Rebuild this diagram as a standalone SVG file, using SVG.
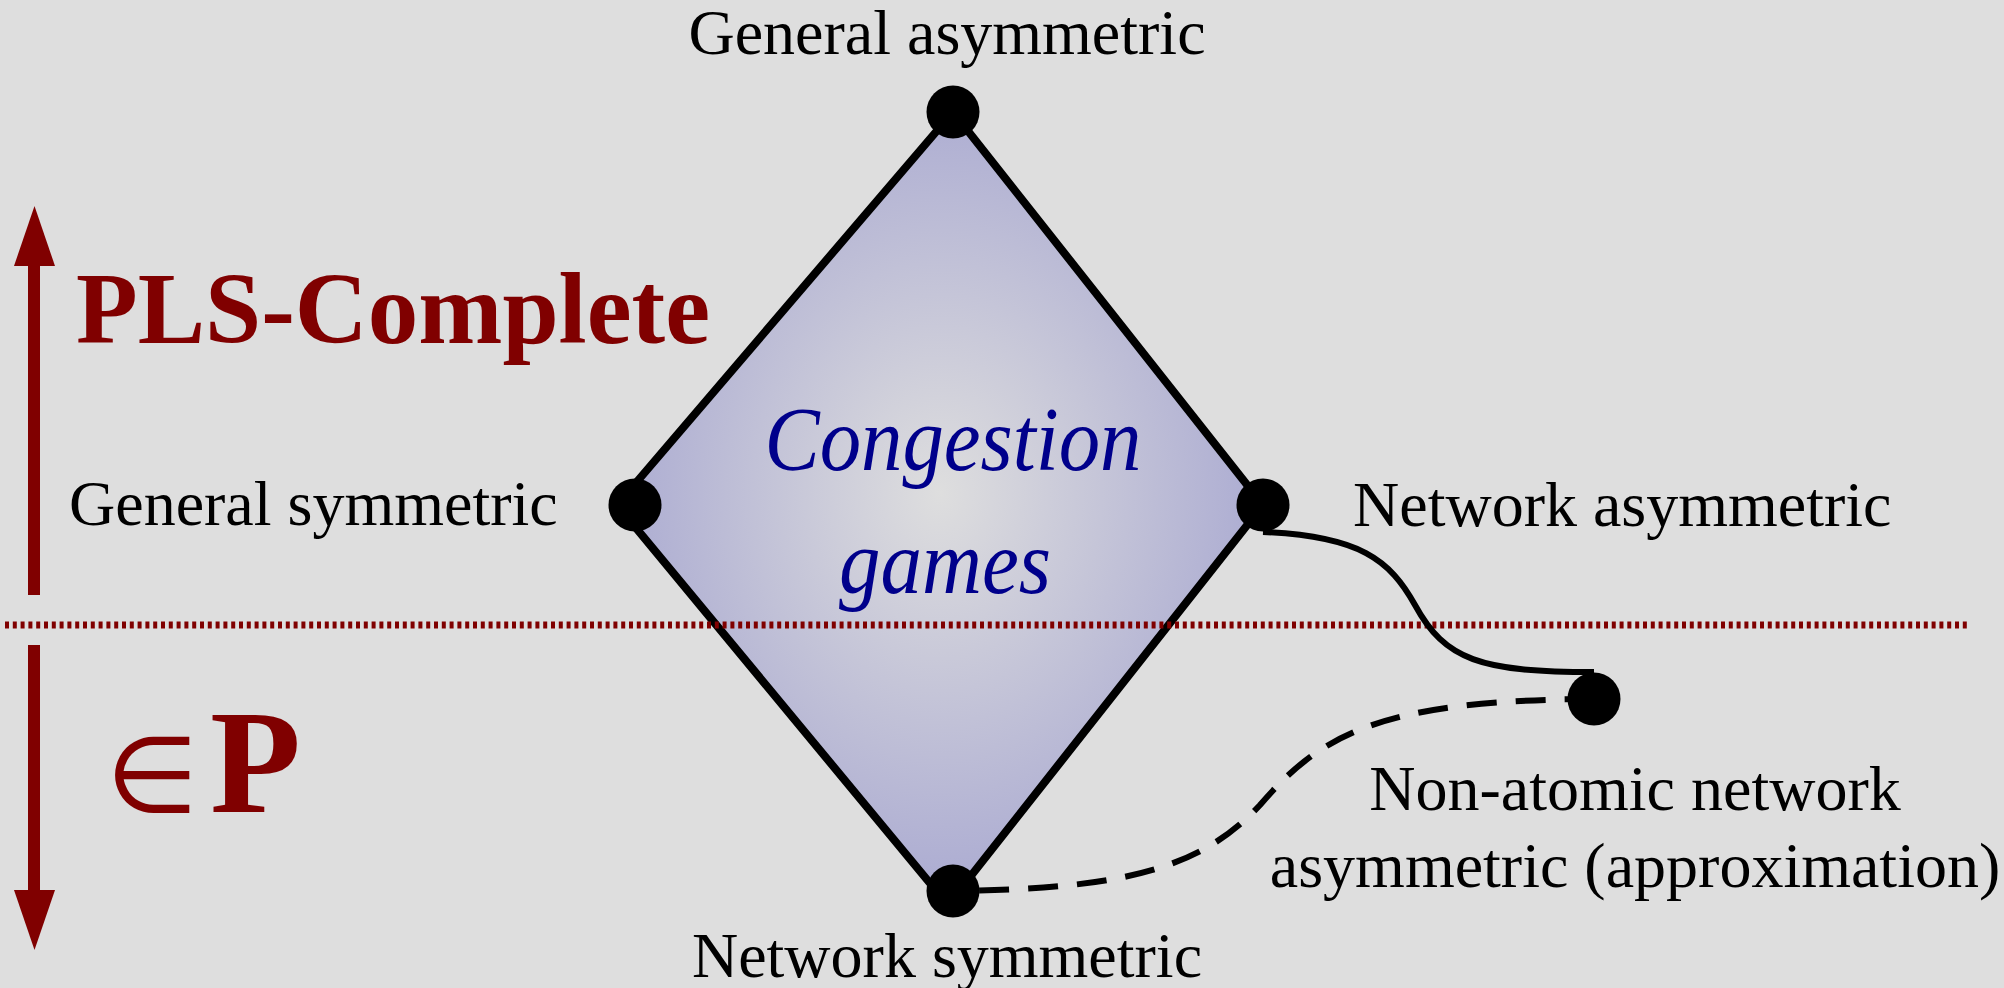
<svg xmlns="http://www.w3.org/2000/svg" width="2004" height="988" viewBox="0 0 2004 988">
<defs>
<style>
.lbl{font-family:"Liberation Serif","Times New Roman",serif;font-size:64px;fill:#000}
.red{fill:#800000}
.node{fill:#000}
.edge{fill:none;stroke:#000;stroke-width:6}
.title{font-family:"Liberation Serif","Times New Roman",serif;font-style:italic;font-size:90px;fill:#00008b}
</style>
<radialGradient id="gr" cx="0.5" cy="0.48" r="0.5">
<stop offset="0" stop-color="#dedede"/>
<stop offset="1" stop-color="#acacd2"/>
</radialGradient>
</defs>
<rect width="2004" height="988" fill="#dedede"/>
<g id="diamond">
<polygon points="953,112 1263,505 948,905 617,505" fill="url(#gr)" stroke="#000" stroke-width="8" stroke-linejoin="round"/>
<text class="title" x="953" y="470" text-anchor="middle" textLength="377" lengthAdjust="spacingAndGlyphs">Congestion</text>
<text class="title" x="945" y="593" text-anchor="middle" textLength="212" lengthAdjust="spacingAndGlyphs">games</text>
</g>
<g id="scale">
<rect class="red" x="28" y="262" width="12" height="333"/>
<polygon class="red" points="14,266 55,266 34.5,206"/>
<rect class="red" x="28" y="645" width="12" height="249"/>
<polygon class="red" points="14,890 55,890 34.5,950"/>
<line x1="5" y1="625" x2="1968" y2="625" stroke="#800000" stroke-width="7" stroke-dasharray="4 3.8"/>
<text x="76" y="343" font-family="Liberation Serif, serif" font-weight="bold" font-size="101" class="red">PLS-Complete</text>
<text x="106" y="812" font-family="DejaVu Sans, sans-serif" font-size="106" class="red">∈</text>
<text x="210" y="812" font-family="Liberation Serif, serif" font-weight="bold" font-size="149" class="red">P</text>
</g>
<g id="connectors">
<path class="edge" d="M1263,532 C1360,536 1390,560 1415,605 C1445,660 1480,672 1594,672"/>
<path class="edge" d="M953,891 C1120,889 1200,870 1260,805 C1320,735 1380,700 1594,699" stroke-dasharray="30 19" stroke-dashoffset="23"/>
</g>
<g id="node-general-asymmetric">
<circle class="node" cx="953" cy="112" r="26.5"/>
<text class="lbl" x="947" y="54" text-anchor="middle">General asymmetric</text>
</g>
<g id="node-general-symmetric">
<circle class="node" cx="635" cy="505" r="26.5"/>
<text class="lbl" x="69" y="525">General symmetric</text>
</g>
<g id="node-network-asymmetric">
<circle class="node" cx="1263" cy="505" r="26.5"/>
<text class="lbl" x="1353" y="526">Network asymmetric</text>
</g>
<g id="node-network-symmetric">
<circle class="node" cx="953" cy="891" r="26.5"/>
<text class="lbl" x="947" y="977" text-anchor="middle">Network symmetric</text>
</g>
<g id="node-nonatomic">
<circle class="node" cx="1594" cy="699" r="26.5"/>
<text class="lbl" x="1635" y="810" text-anchor="middle">Non-atomic network</text>
<text class="lbl" x="1635" y="887" text-anchor="middle">asymmetric (approximation)</text>
</g>
</svg>
